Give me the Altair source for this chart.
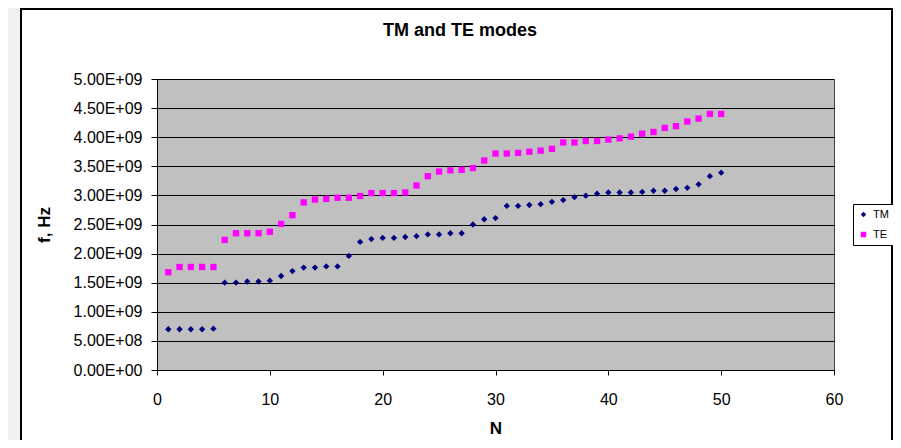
import altair as alt
import pandas as pd

# ---- data ----
n_values = list(range(1, 51))
tm_hz = [
    7.00e8, 7.00e8, 7.00e8, 7.00e8, 7.10e8,
    1.500e9, 1.500e9, 1.520e9, 1.520e9, 1.535e9,
    1.615e9, 1.700e9, 1.760e9, 1.760e9, 1.780e9,
    1.780e9, 1.960e9, 2.200e9, 2.250e9, 2.270e9,
    2.270e9, 2.285e9, 2.300e9, 2.330e9, 2.330e9,
    2.350e9, 2.350e9, 2.500e9, 2.590e9, 2.610e9,
    2.820e9, 2.820e9, 2.835e9, 2.850e9, 2.890e9,
    2.920e9, 2.970e9, 2.995e9, 3.030e9, 3.050e9,
    3.050e9, 3.050e9, 3.060e9, 3.080e9, 3.080e9,
    3.110e9, 3.130e9, 3.190e9, 3.330e9, 3.390e9,
]
te_hz = [
    1.680e9, 1.770e9, 1.770e9, 1.770e9, 1.770e9,
    2.235e9, 2.350e9, 2.350e9, 2.350e9, 2.375e9,
    2.510e9, 2.660e9, 2.880e9, 2.930e9, 2.940e9,
    2.960e9, 2.960e9, 2.990e9, 3.040e9, 3.040e9,
    3.040e9, 3.050e9, 3.170e9, 3.330e9, 3.410e9,
    3.430e9, 3.440e9, 3.470e9, 3.600e9, 3.720e9,
    3.720e9, 3.730e9, 3.750e9, 3.770e9, 3.800e9,
    3.910e9, 3.910e9, 3.935e9, 3.935e9, 3.960e9,
    3.980e9, 4.010e9, 4.060e9, 4.090e9, 4.160e9,
    4.190e9, 4.270e9, 4.320e9, 4.400e9, 4.400e9,
]
series_names = ["TM", "TE"]
series_colors = ["#000080", "#ff00ff"]
series_shapes = ["diamond", "square"]
x_ticks = [0, 10, 20, 30, 40, 50, 60]
y_ticks = [0, 5e8, 1e9, 1.5e9, 2e9, 2.5e9, 3e9, 3.5e9, 4e9, 4.5e9, 5e9]
chart_title = ["TM and TE modes"]

df = pd.DataFrame({
    "N": n_values * 2,
    "f": tm_hz + te_hz,
    "series": ["TM"] * len(n_values) + ["TE"] * len(n_values),
})

FONT = "Liberation Sans"
W, H = 677, 291

one = pd.DataFrame({"a": [0]})

left_strip = alt.Chart(one).mark_rect(fill="#f0f0f0").encode(
    x=alt.value(-149), x2=alt.value(-137), y=alt.value(-71), y2=alt.value(361)
)
frame = alt.Chart(one).mark_rect(fillOpacity=0, stroke="black", strokeWidth=2).encode(
    x=alt.value(-136), x2=alt.value(735), y=alt.value(-70), y2=alt.value(420)
)

legend_opts = dict(title=None, orient="none", legendX=696, legendY=125,
                   padding=5, strokeColor="black", fillColor="white",
                   labelFontSize=11, rowPadding=8, symbolSize=30,
                   labelOffset=4, symbolStrokeWidth=0)

points = alt.Chart(df).mark_point(filled=True, size=40, opacity=1).encode(
    x=alt.X("N:Q",
            scale=alt.Scale(domain=[0, 60], nice=False),
            axis=alt.Axis(values=x_ticks, grid=False, title="N",
                          labelFontSize=16, labelBaseline="alphabetic",
                          labelFlush=False,
                          tickSize=5, labelPadding=29,
                          titleFontSize=17, titleFontWeight="bold",
                          titleX=W / 2, titleY=63.7, titleBaseline="alphabetic")),
    y=alt.Y("f:Q",
            scale=alt.Scale(domain=[0, 5e9], nice=False),
            axis=alt.Axis(values=y_ticks, grid=True, title="f, Hz",
                          labelExpr="replace(upper(format(datum.value, '.2e')), '+', '+0')",
                          labelFontSize=16, tickSize=6, labelPadding=9,
                          labelFlush=False,
                          titleFontSize=17, titleFontWeight="bold",
                          titleAngle=270, titleX=-108, titleY=H / 2,
                          titleBaseline="alphabetic", titleAlign="center")),
    color=alt.Color("series:N",
                    scale=alt.Scale(domain=series_names, range=series_colors),
                    legend=alt.Legend(**legend_opts)),
    shape=alt.Shape("series:N",
                    scale=alt.Scale(domain=series_names, range=series_shapes),
                    legend=alt.Legend(**legend_opts)),
)

title_df = pd.DataFrame({"t": chart_title})
title = alt.Chart(title_df).mark_text(
    fontSize=18, fontWeight="bold", font=FONT, align="center", baseline="alphabetic", color="black"
).encode(text="t:N", x=alt.value(303), y=alt.value(-43))

chart = alt.layer(left_strip, frame, points, title).properties(
    width=W, height=H,
    autosize=alt.AutoSizeParams(type="none"),
    padding={"left": 149, "top": 71, "right": 59, "bottom": 70},
    background="white",
).configure_view(
    fill="#c0c0c0", stroke="#404040", strokeWidth=1
).configure_axis(
    labelFont=FONT, titleFont=FONT, labelColor="black", titleColor="black",
    domainColor="black", tickColor="black", gridColor="black", gridWidth=1,
    gridOpacity=1, domainWidth=1, tickWidth=1
).configure_legend(
    labelFont=FONT, labelColor="black"
)

chart.save("out.html", embed_options={"renderer": "svg", "actions": False})
